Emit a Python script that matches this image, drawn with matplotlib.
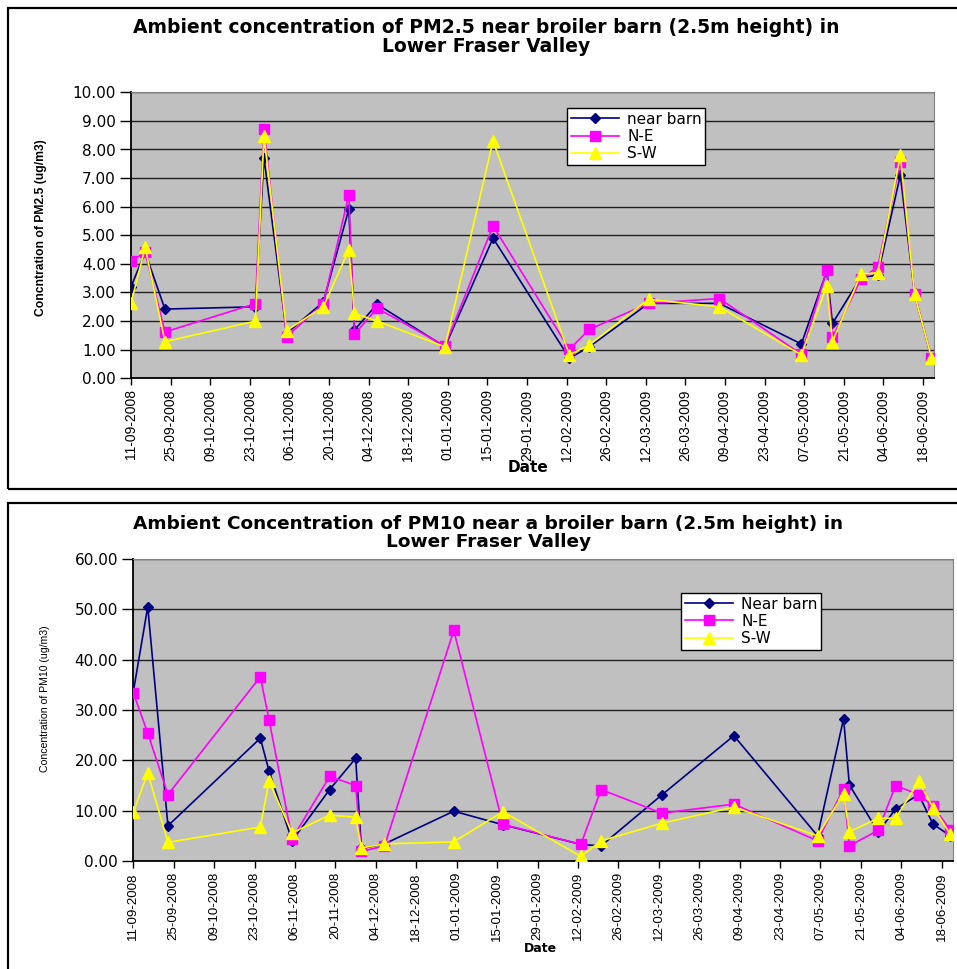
import matplotlib
matplotlib.use("Agg")
import matplotlib.pyplot as plt
import matplotlib.dates as mdates
from matplotlib.patches import Rectangle
import numpy as np
import datetime as dt

# ---------------- data ----------------
dates = ["2008-09-11", "2008-09-16", "2008-09-23", "2008-10-25", "2008-10-28",
         "2008-11-05", "2008-11-18", "2008-11-27", "2008-11-29", "2008-12-07",
         "2008-12-31", "2009-01-17", "2009-02-13", "2009-02-20", "2009-03-13",
         "2009-04-07", "2009-05-06", "2009-05-15", "2009-05-17", "2009-05-27",
         "2009-06-02", "2009-06-10", "2009-06-15", "2009-06-21"]

pm25_near = [3.20, 4.40, 2.42, 2.50, 7.72, 1.57, 2.67, 5.91, 1.69, 2.59, 1.10, 4.90,
             0.70, 1.10, 2.62, 2.62, 1.20, 3.75, 1.92, 3.52, 3.61, 7.10, 2.97, 0.70]
pm25_ne = [4.11, 4.40, 1.62, 2.61, 8.73, 1.46, 2.61, 6.41, 1.54, 2.45, 1.13, 5.33,
           1.01, 1.71, 2.62, 2.79, 0.84, 3.78, 1.43, 3.46, 3.90, 7.58, 2.95, 0.72]
pm25_sw = [2.62, 4.58, 1.28, 2.00, 8.48, 1.67, 2.50, 4.49, 2.27, 2.00, 1.10, 8.30,
           0.82, 1.17, 2.76, 2.50, 0.82, 3.23, 1.28, 3.64, 3.69, 7.80, 2.95, 0.72]

pm10_near = [33.6, 50.5, 7.0, 24.4, 17.9, 4.0, 14.2, 20.4, 2.5, 3.4, 9.9, 7.2,
             3.3, 3.0, 13.1, 24.9, 5.0, 28.3, 15.1, 5.8, 10.3, 13.2, 7.3, 5.0]
pm10_ne = [33.4, 25.4, 13.2, 36.6, 28.1, 4.4, 16.8, 15.0, 1.9, 3.0, 45.8, 7.3,
           3.3, 14.2, 9.5, 11.3, 4.0, 14.4, 3.0, 6.1, 15.0, 13.2, 10.9, 6.1]
pm10_sw = [9.7, 17.5, 3.7, 6.75, 15.8, 5.6, 9.1, 8.7, 2.6, 3.4, 3.8, 9.8,
           0.9, 4.0, 7.5, 10.7, 5.0, 13.4, 5.8, 8.5, 8.5, 15.8, 10.6, 5.3]

top_title = "Ambient concentration of PM2.5 near broiler barn (2.5m height) in\nLower Fraser Valley"
bot_title = "Ambient Concentration of PM10 near a broiler barn (2.5m height) in\nLower Fraser Valley"
top_ylabel = "Concntration of PM2.5 (ug/m3)"
bot_ylabel = "Concentration of PM10 (ug/m3)"
top_legend = ["near barn", "N-E", "S-W"]
bot_legend = ["Near barn", "N-E", "S-W"]

# ---------------- setup ----------------
W, H = 957, 969
fig = plt.figure(figsize=(W / 100, H / 100), dpi=100)
fig.patch.set_facecolor("white")

x = [dt.datetime.strptime(d, "%Y-%m-%d") for d in dates]
xmin = dt.datetime(2008, 9, 11)
xmax = dt.datetime(2009, 6, 22)

def fx(px):
    return px / W

def fy(py):
    return 1 - py / H

def make_axes(l, r, t, b):
    return fig.add_axes([fx(l), fy(b), fx(r) - fx(l), (b - t) / H])

def style(ax, ymax, ystep, datesize):
    ax.set_facecolor("#C0C0C0")
    ax.set_xlim(xmin, xmax)
    ax.set_ylim(0, ymax)
    ax.set_yticks(np.arange(0, ymax + 0.001, ystep))
    ax.yaxis.set_major_formatter(matplotlib.ticker.FormatStrFormatter("%.2f"))
    ticks = [xmin + dt.timedelta(days=14 * i) for i in range(21)]
    ax.set_xticks(ticks)
    ax.set_xticklabels([t.strftime("%d-%m-%Y") for t in ticks], rotation=90,
                       family="Liberation Sans", fontsize=datesize)
    for lab in ax.get_yticklabels():
        lab.set_family("DejaVu Sans")
        lab.set_fontsize(11)
    ax.tick_params(axis="y", direction="out", length=8, width=1, color="black", pad=3)
    ax.tick_params(axis="x", direction="out", length=5, width=1, color="black", pad=3)
    ax.grid(axis="y", color="#202020", lw=1)
    ax.set_axisbelow(True)
    ax.spines["left"].set_color("black")
    ax.spines["bottom"].set_color("black")
    ax.spines["left"].set_linewidth(1.3)
    ax.spines["bottom"].set_linewidth(1.3)
    ax.spines["top"].set_color("#808080")
    ax.spines["right"].set_color("#808080")

def plot_series(ax, a, b, c, labels):
    h1, = ax.plot(x, a, color="#000080", marker="D", ms=5.5, lw=1.2, label=labels[0], zorder=3)
    h2, = ax.plot(x, b, color="#FF00FF", marker="s", ms=6.5, lw=1.2, label=labels[1], zorder=4)
    h3, = ax.plot(x, c, color="#FFFF00", marker="^", ms=8, lw=1.2, label=labels[2], zorder=5)
    return [h1, h2, h3]

def add_legend(ax, hs, labels, left, top):
    leg = ax.legend(hs, labels, loc="upper left",
                    bbox_to_anchor=(fx(left), fy(top)), bbox_transform=fig.transFigure,
                    prop={"family": "DejaVu Sans", "size": 11}, frameon=True, fancybox=False,
                    edgecolor="black", framealpha=1, borderpad=0.25, labelspacing=0.15,
                    handlelength=3.2, handletextpad=0.5, borderaxespad=0)
    leg.get_frame().set_linewidth(1)

# ---------------- boxes ----------------
fig.patches.append(Rectangle((fx(8), fy(489)), fx(960) - fx(8), (489 - 8) / H,
                             transform=fig.transFigure, fill=False, ec="black", lw=1.6))
fig.patches.append(Rectangle((fx(8), fy(972)), fx(960) - fx(8), (972 - 503) / H,
                             transform=fig.transFigure, fill=False, ec="black", lw=1.6))

# ---------------- top chart ----------------
ax1 = make_axes(131, 934.3, 92.3, 378.3)
style(ax1, 10, 1, 10)
hs = plot_series(ax1, pm25_near, pm25_ne, pm25_sw, top_legend)
add_legend(ax1, hs, top_legend, 566.7, 108)
fig.text(fx(486), fy(37), top_title, ha="center", va="center", family="DejaVu Sans",
         weight="bold", fontsize=13.5, linespacing=1.02)
fig.text(fx(41), fy(228), top_ylabel, rotation=90, ha="center", va="center",
         family="Liberation Sans", weight="bold", fontsize=8.7)
fig.text(fx(528), fy(467), "Date", ha="center", va="center", family="DejaVu Sans",
         weight="bold", fontsize=11)

# ---------------- bottom chart ----------------
ax2 = make_axes(133.3, 953.3, 559, 861)
style(ax2, 60, 10, 9.6)
hs = plot_series(ax2, pm10_near, pm10_ne, pm10_sw, bot_legend)
add_legend(ax2, hs, bot_legend, 680.7, 592.7)
fig.text(fx(488), fy(533), bot_title, ha="center", va="center", family="DejaVu Sans",
         weight="bold", fontsize=13.3, linespacing=1.0)
fig.text(fx(45), fy(699), bot_ylabel, rotation=90, ha="center", va="center",
         family="Liberation Sans", fontsize=7.6)
fig.text(fx(540), fy(949), "Date", ha="center", va="center", family="DejaVu Sans",
         weight="bold", fontsize=9)

fig.savefig("out.png", dpi=100)
